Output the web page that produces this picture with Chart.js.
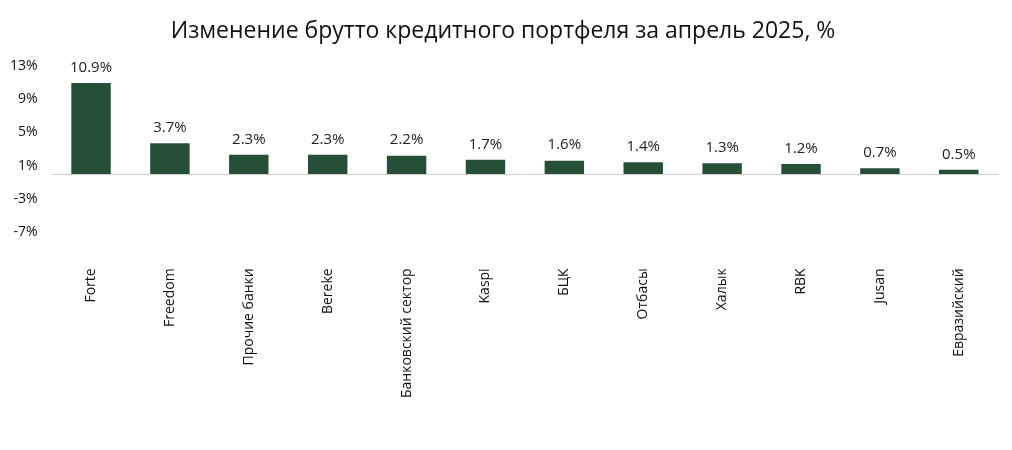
<!DOCTYPE html>
<html><head><meta charset="utf-8">
<script src="https://cdn.jsdelivr.net/npm/chart.js@4"></script>
<style>body{margin:0;background:#fff}#w{width:1012px;height:450px}</style>
</head><body><div id="w"><canvas id="c"></canvas></div>
<script>
const categories = ["Forte","Freedom","Прочие банки","Bereke","Банковский сектор","Kaspi","БЦК","Отбасы","Халык","RBK","Jusan","Евразийский"];
const values = [10.9,3.7,2.3,2.3,2.2,1.7,1.6,1.4,1.3,1.2,0.7,0.5];
const yTicks = [-7,-5,-3,-1,1,3,5,7,9,11,13];
const barColor = "#264f37";
const labelsPlugin = {
  id:"vals",
  beforeDatasetsDraw(ch){
    const ctx=ch.ctx,y=ch.scales.y.getPixelForValue(0),a=ch.chartArea;
    ctx.save();ctx.strokeStyle="#d0d0d0";ctx.lineWidth=1;ctx.beginPath();ctx.moveTo(a.left,y+0.5);ctx.lineTo(a.right,y+0.5);ctx.stroke();ctx.restore();
  },
  afterDatasetsDraw(ch){
    const ctx=ch.ctx, meta=ch.getDatasetMeta(0);
    ctx.save();ctx.font="15px 'Open Sans', sans-serif";ctx.fillStyle="#222";ctx.textAlign="center";ctx.textBaseline="bottom";
    meta.data.forEach((b,i)=>ctx.fillText(values[i].toFixed(1)+"%",b.x,b.y-8));
    ctx.restore();
  }
};
new Chart(document.getElementById("c"),{
  type:"bar",
  data:{labels:categories,datasets:[{data:values,backgroundColor:barColor,barPercentage:0.5,categoryPercentage:1}]},
  plugins:[labelsPlugin],
  options:{responsive:true,maintainAspectRatio:false,animation:false,
    layout:{padding:{left:4,right:10,top:0,bottom:16}},
    plugins:{legend:{display:false},tooltip:{enabled:false},
      title:{display:true,text:"Изменение брутто кредитного портфеля за апрель 2025, %",font:{size:23,family:"'Open Sans', sans-serif",weight:"normal"},color:"#111",padding:{top:18,bottom:20}}},
    scales:{
      x:{grid:{display:false,drawTicks:false},border:{display:false},
        ticks:{minRotation:90,maxRotation:90,padding:36,autoSkip:false,color:"#111",font:{size:14,family:"'Open Sans', sans-serif"}}},
      y:{min:-7,max:13,afterBuildTicks(a){a.ticks=yTicks.map(v=>({value:v}));},grid:{display:false},border:{display:false},
        ticks:{callback:v=>v+"%",color:"#111",padding:6,font:{size:14,family:"'Open Sans', sans-serif"}}}
    }}
});
</script></body></html>
